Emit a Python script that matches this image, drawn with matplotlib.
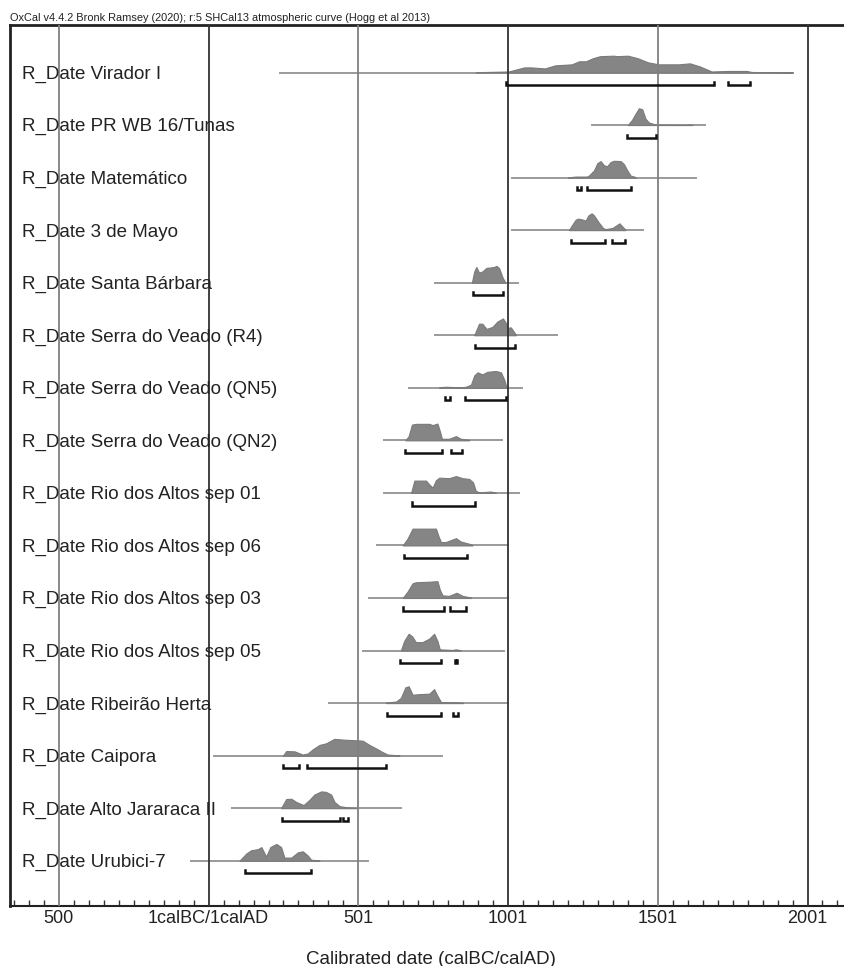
import numpy as np
import matplotlib
matplotlib.use("Agg")
import matplotlib.pyplot as plt
import matplotlib.transforms as mtransforms
from matplotlib.ticker import MultipleLocator

plt.rcParams['font.family'] = ['Liberation Sans', 'DejaVu Sans']

title = "OxCal v4.4.2 Bronk Ramsey (2020); r:5 SHCal13 atmospheric curve (Hogg et al 2013)"

labels = [
    "R_Date Virador I", "R_Date PR WB 16/Tunas", "R_Date Matemático",
    "R_Date 3 de Mayo", "R_Date Santa Bárbara", "R_Date Serra do Veado (R4)",
    "R_Date Serra do Veado (QN5)", "R_Date Serra do Veado (QN2)",
    "R_Date Rio dos Altos sep 01", "R_Date Rio dos Altos sep 06",
    "R_Date Rio dos Altos sep 03", "R_Date Rio dos Altos sep 05",
    "R_Date Ribeirão Herta", "R_Date Caipora", "R_Date Alto Jararaca II",
    "R_Date Urubici-7",
]

# extent of the thin line under each distribution (calendar years)
line_start = [240, 1280, 1013, 1012, 757, 757, 668, 587, 587, 561, 537, 514, 403, 18, 78, -58]
line_end = [1953, 1657, 1627, 1450, 1034, 1164, 1046, 981, 1037, 1000, 1000, 987, 1000, 781, 642, 531]

# probability distributions (year, relative height)
dist_years = [
    [893, 1002, 1054, 1077, 1123, 1157, 1213, 1237, 1260, 1283, 1307, 1353, 1363, 1400, 1433, 1467, 1503, 1570, 1607, 1640, 1680, 1733, 1797, 1813, 1950],
    [1400, 1414, 1426, 1437, 1448, 1459, 1470, 1481, 1492, 1590, 1603, 1616],
    [1200, 1226, 1263, 1270, 1287, 1298, 1309, 1320, 1331, 1342, 1353, 1376, 1387, 1398, 1409, 1426],
    [1203, 1214, 1226, 1234, 1242, 1250, 1259, 1268, 1279, 1287, 1301, 1317, 1326, 1348, 1359, 1372, 1383, 1392],
    [879, 887, 894, 903, 914, 928, 939, 953, 961, 970, 981, 990],
    [887, 903, 914, 928, 948, 964, 983, 992, 998, 1009, 1020, 1026],
    [770, 790, 813, 837, 859, 876, 887, 898, 914, 931, 959, 976, 987, 994],
    [657, 668, 679, 692, 737, 748, 764, 773, 779, 803, 826, 842, 870],
    [676, 687, 726, 737, 748, 759, 770, 803, 826, 848, 870, 883, 892, 903, 942, 959],
    [648, 664, 681, 759, 768, 776, 792, 826, 842, 870, 881],
    [648, 664, 681, 692, 737, 764, 772, 781, 803, 828, 848, 876],
    [642, 653, 668, 679, 692, 714, 737, 753, 764, 772, 814, 826, 842],
    [592, 626, 642, 657, 668, 681, 703, 737, 753, 764, 776, 826, 850],
    [248, 259, 287, 314, 331, 348, 370, 392, 420, 448, 481, 514, 537, 564, 576, 598, 637],
    [242, 259, 276, 292, 317, 337, 353, 376, 392, 409, 420, 437, 459, 492],
    [103, 126, 142, 164, 176, 192, 206, 226, 242, 253, 276, 298, 314, 331, 342, 370],
]
dist_heights = [
    [0.3, 1, 5, 5, 4, 7, 8, 11, 11, 14, 16, 16.5, 16, 16.5, 14, 10, 8, 8, 9, 6, 1, 1.5, 1.5, 0.5, 0.1],
    [0, 5, 11, 16, 15, 6, 2.5, 1.5, 0.5, 0.2, 0.6, 0.2],
    [0.2, 1, 1, 2, 7, 14, 16, 12, 11, 15, 16.3, 16, 13, 7, 2, 0.5],
    [0, 5, 10, 11, 10.5, 10, 9, 14, 16, 14, 8, 2, 1, 2, 4, 6.5, 3, 0.5],
    [0, 10, 14, 9, 10, 13.3, 13.5, 14, 15, 13, 5, 0.5],
    [0, 11, 11, 6, 8, 13, 16, 12, 7, 7.5, 3, 0.5],
    [0.5, 1, 0.8, 0.3, 1, 3, 12, 15, 13, 15.5, 16.3, 15, 8, 1],
    [0, 4, 15, 15.7, 15.7, 14.5, 16, 8, 1.5, 1.5, 4, 1.5, 0.5],
    [0, 11.7, 11.7, 8, 5, 12, 14.5, 14, 16, 14, 13.3, 10, 2, 0.5, 1.3, 0.3],
    [0, 6, 15, 15, 8, 3, 3, 6.5, 3.5, 1.5, 0.3],
    [0, 6, 14, 15, 15.5, 16, 8, 2.5, 2, 5, 2, 0.5],
    [0, 8, 14, 12, 7, 7, 10, 14, 8, 1, 0.5, 1, 0.3],
    [0.5, 1.5, 5, 15, 16, 8, 8.5, 9, 13.3, 7, 1, 0.8, 0.3],
    [0, 4.3, 4, 1, 2, 6, 10, 11.5, 15.7, 15, 14.5, 14, 10, 6, 4, 1, 0.3],
    [0, 8.7, 9, 6, 3, 8, 13, 16, 15.5, 13, 6, 2, 1, 0.3],
    [0, 7, 10, 11, 13, 4, 13, 16, 13, 3, 3, 8, 9, 5, 1, 0.3],
]

# highest posterior density ranges (brackets under each distribution)
hpd_ranges = [
    [(993, 1687), (1733, 1807)],
    [(1397, 1493)],
    [(1231, 1244), (1264, 1412)],
    [(1209, 1323), (1348, 1389)],
    [(883, 983)],
    [(890, 1022)],
    [(790, 807), (857, 992)],
    [(657, 781), (809, 846)],
    [(679, 890)],
    [(653, 862)],
    [(650, 787), (806, 859)],
    [(639, 776), (824, 829)],
    [(596, 776), (817, 834)],
    [(250, 301), (328, 592)],
    [(244, 440), (450, 465)],
    [(122, 342)],
]

tick_years = [-500, 0, 500, 1000, 1500, 2000]
tick_labels = ["500", "1calBC/1calAD", "501", "1001", "1501", "2001"]

fig = plt.figure(figsize=(8.44, 9.66), dpi=100)
ax = fig.add_axes([10 / 844, 1 - 906 / 966, 1 - 10 / 844 + 0.01, (906 - 25) / 966])

peak = 0.32
for i, lab in enumerate(labels):
    y0 = -i
    ax.plot([line_start[i], line_end[i]], [y0, y0], color="#9a9a9a", lw=1.4, zorder=1)
    yrs = np.array(dist_years[i])
    h = np.array(dist_heights[i]) / max(dist_heights[i]) * peak
    ax.fill_between(yrs, y0, y0 + h, color="#858585", lw=0.8, edgecolor="#7a7a7a", zorder=2)
    yb = y0 - 0.24
    for a, b in hpd_ranges[i]:
        ax.plot([a, a, b, b], [yb + 0.06, yb, yb, yb + 0.06], color="#111111", lw=1.8,
                solid_joinstyle="miter", zorder=4)
    ax.text(0.0144, y0 - 0.035, lab, transform=mtransforms.blended_transform_factory(ax.transAxes, ax.transData),
            fontsize=13.5, color="#222222", va="center", ha="left", zorder=5)

for k, t in enumerate(tick_years):
    ax.axvline(t, color="#333333" if k % 2 else "#808080", lw=1.3, zorder=3)

ax.set_xlim((10 - 209) / 0.3, (854 - 209) / 0.3)
ax.set_ylim(-(906 - 72.5) / 52.55, (72.5 - 25) / 52.55)
ax.set_yticks([])
ax.set_xticks(tick_years)
ax.set_xticklabels(tick_labels, fontsize=13, color="#222222")
ax.xaxis.set_minor_locator(MultipleLocator(50))
ax.tick_params(axis="x", which="major", direction="in", length=0, pad=3)
ax.tick_params(axis="x", which="minor", direction="in", length=4, width=1, color="#333333")
ax.set_xlabel("Calibrated date (calBC/calAD)", fontsize=13.5, color="#222222", labelpad=17)

ax.spines["right"].set_visible(False)
ax.spines["left"].set_linewidth(2)
ax.spines["top"].set_linewidth(2)
ax.spines["bottom"].set_linewidth(1.5)
for s in ax.spines.values():
    s.set_color("#222222")

fig.text(10 / 844, 1 - 18 / 966, title, fontsize=7.9, color="#222222", va="center", ha="left")

fig.savefig("out.png", dpi=100)
